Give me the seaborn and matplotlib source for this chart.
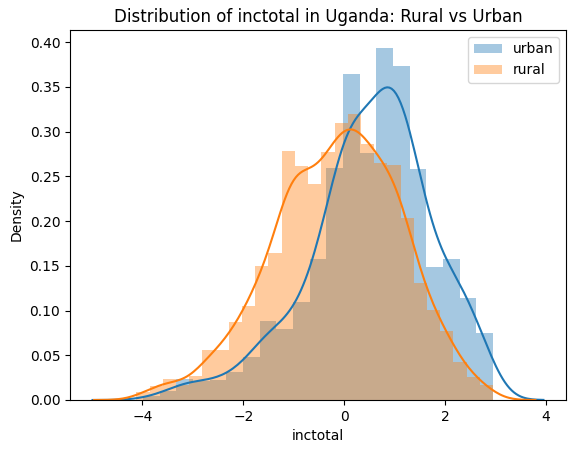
import numpy as np
import pandas as pd
import matplotlib
matplotlib.use("Agg")
import matplotlib.pyplot as plt
import seaborn as sns

# ---- data ----
groups = ["urban", "rural"]

urban_range = (-3.99, 2.95)
urban_density = [0.004, 0.010, 0.023, 0.021, 0.0224, 0.0318, 0.0486, 0.0878,
                 0.0796, 0.110, 0.158, 0.259, 0.364, 0.2765, 0.394, 0.373,
                 0.2586, 0.1487, 0.1577, 0.114, 0.0747]
urban_bw = 0.333

rural_range = (-4.12, 2.95)
rural_density = [0.0086, 0.0157, 0.0235, 0.0168, 0.0269, 0.056, 0.056, 0.0867,
                 0.1046, 0.150, 0.1644, 0.278, 0.2616, 0.241, 0.2777, 0.3094,
                 0.3195, 0.2859, 0.265, 0.2627, 0.204, 0.1308, 0.1009, 0.0774,
                 0.0425, 0.0262, 0.0172]
rural_bw = 0.28

title = "Distribution of inctotal in Uganda: Rural vs Urban"
xlabel = "inctotal"
ylabel = "Density"

fig, ax = plt.subplots(figsize=(5.76, 4.53), dpi=100)
fig.subplots_adjust(left=0.1215, right=0.9826, top=0.9338, bottom=0.117)


def draw(dens, rng, bw, color, label):
    dens = np.asarray(dens, dtype=float)
    edges = np.linspace(rng[0], rng[1], len(dens) + 1)
    centers = (edges[:-1] + edges[1:]) / 2
    width = edges[1] - edges[0]
    df = pd.DataFrame({"x": centers, "w": dens})
    sns.histplot(data=df, x="x", weights="w", bins=list(edges), stat="count",
                 color=color, alpha=0.4, linewidth=0, label=label, ax=ax)
    # smoothing of the binned values: add the within-bin spread
    bw_eff = np.sqrt(bw ** 2 + width ** 2 / 12)
    wn = dens / dens.sum()
    mean = np.sum(wn * centers)
    var = np.sum(wn * (centers - mean) ** 2) / (1 - np.sum(wn ** 2))
    std = np.sqrt(var)
    sns.kdeplot(data=df, x="x", weights="w", bw_method=float(bw_eff / std),
                cut=5, clip=(rng[0] - 3 * bw, rng[1] + 3 * bw), gridsize=200,
                color=color, linewidth=1.5, ax=ax)


draw(urban_density, urban_range, urban_bw, "C0", groups[0])
draw(rural_density, rural_range, rural_bw, "C1", groups[1])

ax.set_title(title)
ax.set_xlabel(xlabel)
ax.set_ylabel(ylabel)
ax.legend(loc="upper right")

fig.savefig("out.png", dpi=100)
